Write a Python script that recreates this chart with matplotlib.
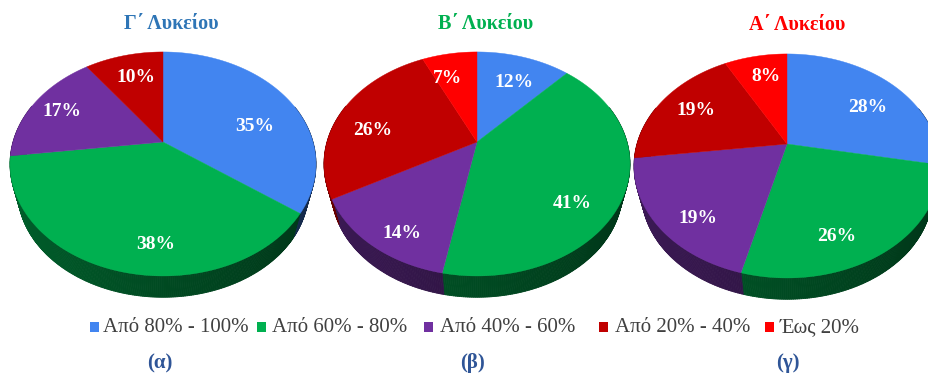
import numpy as np
import matplotlib
matplotlib.use("Agg")
import matplotlib.pyplot as plt
from matplotlib.collections import PolyCollection
from matplotlib.colors import to_rgb
from matplotlib.patches import Rectangle

# Share of students per grade band, one list per school year
categories = ["Από 80% - 100%", "Από 60% - 80%", "Από 40% - 60%", "Από 20% - 40%", "Έως 20%"]
values_c = [35, 38, 17, 10, 0]
values_b = [12, 41, 14, 26, 7]
values_a = [28, 26, 19, 19, 8]
titles = ["Γ΄ Λυκείου", "Β΄ Λυκείου", "Α΄ Λυκείου"]
captions = ["(α)", "(β)", "(γ)"]

colors = ["#4285f0", "#00b050", "#7030a0", "#c00000", "#ff0000"]
title_colors = ["#2e75b6", "#00b050", "#ff0000"]
caption_color = "#2f5597"

# Layout in pixels
W, H = 929, 374
centers = [(163, 142), (477, 142), (787, 144)]
title_pos = [(171, 24), (486, 24), (797, 25)]
caption_pos = [(160, 363), (473, 363), (788, 363)]
label_pos = [
    [(255, 126), (156, 244), (62, 111), (136, 77), None],
    [(514, 82), (572, 203), (402, 233), (373, 130), (448, 78)],
    [(868, 107), (837, 236), (698, 218), (696, 110), (766, 76)],
]
swatch_x = [94, 261, 428, 603, 769]
text_x = [103, 272, 440, 615, 780]
LEGEND_Y = 328

# Perspective disc: near edge is larger than the far edge
PERSP = 0.196
SCALE_X = 150.0
SCALE_Y = 107.7
WALL_SCALE = 0.95
WALL_DROP = 28.0

plt.rcParams["font.family"] = ["Liberation Serif", "DejaVu Serif"]


def project(theta, cx, cy, scale=1.0, drop=0.0):
    """Map a clockwise-from-top angle on the unit disc rim to pixel coordinates."""
    u, v = np.sin(theta), np.cos(theta)
    w = 1 + PERSP * v
    return cx + scale * SCALE_X * u / w, cy - scale * SCALE_Y * v / w + drop


def draw_pie(ax, values, center):
    cx, cy = center
    fractions = np.array(values, dtype=float) / sum(values)
    edges = np.concatenate([[0.0], np.cumsum(fractions)]) * 2 * np.pi

    # Side wall first, in short shaded strips, so the top face covers its upper edge
    polys, shades = [], []
    for start, stop, col in zip(edges[:-1], edges[1:], colors):
        if stop <= start:
            continue
        n = max(int((stop - start) * 90), 2)
        t = np.linspace(start, stop, n + 1)
        tx, ty = project(t, cx, cy)
        bx, by = project(t, cx, cy, WALL_SCALE, WALL_DROP)
        base = np.array(to_rgb(col))
        for i in range(n):
            if np.cos(t[i]) > 0.35:
                continue
            polys.append([(tx[i], ty[i]), (tx[i + 1], ty[i + 1]), (bx[i + 1], by[i + 1]), (bx[i], by[i])])
            shades.append(base * (0.42 - 0.12 * np.sin(t[i])))
    ax.add_collection(PolyCollection(polys, facecolors=shades, edgecolors=shades, linewidths=0.6, zorder=1))

    # Top face
    for start, stop, col in zip(edges[:-1], edges[1:], colors):
        if stop <= start:
            continue
        t = np.linspace(start, stop, max(int((stop - start) * 90), 2) + 1)
        x, y = project(t, cx, cy)
        ax.fill(np.r_[cx, x], np.r_[cy, y], color=col, lw=0.3, zorder=2)


fig = plt.figure(figsize=(W / 100, H / 100), dpi=100, facecolor="white")
ax = fig.add_axes([0, 0, 1, 1])
ax.set_xlim(0, W)
ax.set_ylim(H, 0)
ax.axis("off")

for values, center, spots in zip([values_c, values_b, values_a], centers, label_pos):
    draw_pie(ax, values, center)
    for v, spot in zip(values, spots):
        if v and spot:
            ax.text(*spot, f"{v}%", color="white", fontsize=14, fontweight="bold",
                    ha="center", va="center", zorder=3)

for text, pos, col in zip(titles, title_pos, title_colors):
    ax.text(*pos, text, color=col, fontsize=14.5, fontweight="bold", ha="center", va="center")

for name, sx, tx, col in zip(categories, swatch_x, text_x, colors):
    ax.add_patch(Rectangle((sx - 4, LEGEND_Y - 6), 9, 10, facecolor=col, edgecolor="none"))
    ax.text(tx, LEGEND_Y, name, color="#404040", fontsize=15, ha="left", va="center")

for text, pos in zip(captions, caption_pos):
    ax.text(*pos, text, color=caption_color, fontsize=15, fontweight="bold", ha="center", va="center")

fig.savefig("out.png", dpi=100, facecolor="white")
